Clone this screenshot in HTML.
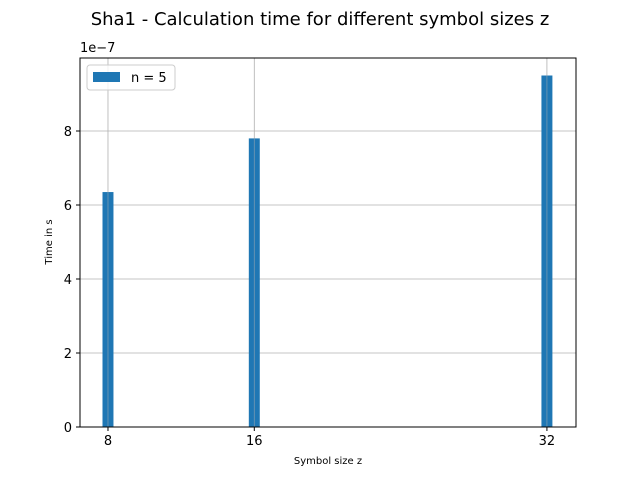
<!DOCTYPE html>
<html><head><meta charset="utf-8"><style>
body{margin:0;background:#fff;}
svg text{font-family:"DejaVu Sans","Liberation Sans",sans-serif;}
</style></head><body>
<svg width="640" height="480" viewBox="0 0 640 480">
<rect width="640" height="480" fill="#fff"/>
<text x="320" y="25" font-size="18" text-anchor="middle">Sha1 - Calculation time for different symbol sizes z</text>
<g id="grid"></g>
<g id="bars"></g>
<rect x="80" y="58" width="496" height="369" fill="none" stroke="#000" stroke-width="1"/>
<g id="axes"></g>
<text x="80" y="52" font-size="13">1e−7</text>
<text x="328" y="464" font-size="10" text-anchor="middle">Symbol size z</text>
<text x="0" y="0" font-size="10" text-anchor="middle" transform="translate(52,242) rotate(-90)">Time in s</text>
<g>
<rect x="87" y="65" width="88" height="25" rx="3" fill="#fff" fill-opacity="0.8" stroke="#ccc"/>
<rect x="93" y="72" width="27" height="10" fill="#1f77b4"/>
<text x="131" y="82" font-size="13">n = 5</text>
</g>
</svg>
<script>
const categories=[8,16,32];
const values=[6.35,7.8,9.5];
const xTicks=[8,16,32];
const yTicks=[0,2,4,6,8];
const NS="http://www.w3.org/2000/svg";
const L=80,R=576,T=58,B=427;
const x=v=>L+(v-6.47)/(33.59-6.47)*(R-L);
const y=v=>B-v*37;
function mk(tag,attrs,parent){const e=document.createElementNS(NS,tag);for(const k in attrs)e.setAttribute(k,attrs[k]);parent.appendChild(e);return e;}
const grid=document.getElementById('grid'),bars=document.getElementById('bars'),axes=document.getElementById('axes');
xTicks.forEach(t=>{
  const g=mk('line',{x1:x(t),x2:x(t),y1:T,y2:B,stroke:'#b0b0b0','stroke-width':0.8},grid);
  
  
  const tk=mk('line',{x1:x(t),x2:x(t),y1:B,y2:B+4,stroke:'#000'},axes);
  
  
  const tx=mk('text',{x:x(t),y:B+18,'font-size':13,'text-anchor':'middle'},axes);
  tx.textContent=t;
  
  
});
yTicks.forEach(t=>{
  const g=mk('line',{x1:L,x2:R,y1:y(t),y2:y(t),stroke:'#b0b0b0','stroke-width':0.8},grid);
  
  
  const tk=mk('line',{x1:L-4,x2:L,y1:y(t),y2:y(t),stroke:'#000'},axes);
  
  
  const tx=mk('text',{x:L-8,y:y(t)+5,'font-size':13,'text-anchor':'end'},axes);
  tx.textContent=t;
  
  
});
categories.forEach((c,i)=>{
  const w=x(c+0.3)-x(c-0.3);
  const b=mk('rect',{x:x(c-0.3),y:y(values[i]),width:w,height:B-y(values[i]),fill:'#1f77b4'},bars);
  
  
  const l=mk('line',{x1:x(c),x2:x(c),y1:y(values[i]),y2:B,stroke:'#b0b0b0','stroke-width':0.8,'stroke-opacity':0.6},bars);
  
  
});
</script>
</body></html>
